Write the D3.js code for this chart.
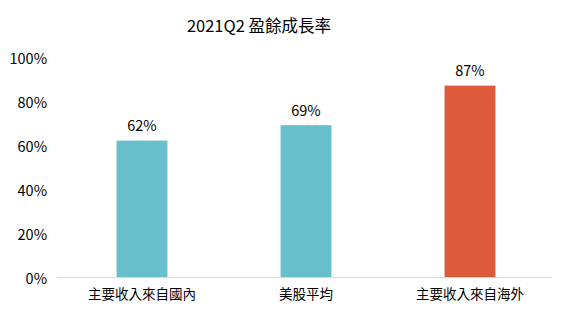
<!DOCTYPE html>
<html>
<head>
<meta charset="utf-8">
<script src="https://cdn.jsdelivr.net/npm/d3@7"></script>
<style>
  body { margin: 0; background: #fff; }
  text { font-family: "Noto Sans CJK TC", "Noto Sans", sans-serif; fill: #000; }
</style>
</head>
<body>
<div id="chart"></div>
<script>
// chart data
const categories = ['主要收入來自國內', '美股平均', '主要收入來自海外'];
const growth = [62, 69, 87];
const barColors = ['#67bfcb', '#67bfcb', '#dd5a3a'];
const yTicks = [0, 20, 40, 60, 80, 100];
const title = '2021Q2 盈餘成長率';

const width = 572, height = 321;
const margin = {top: 57, right: 20, bottom: 44, left: 60};
const cWidth = width - margin.left - margin.right;
const cHeight = height - margin.top - margin.bottom;

const svg = d3.select('#chart').append('svg')
  .attr('width', width).attr('height', height);

svg.append('text')
  .attr('x', 259).attr('y', 25)
  .attr('text-anchor', 'middle').attr('dominant-baseline', 'central')
  .style('font-size', '16.5px')
  .text(title);

const g = svg.append('g').attr('transform', `translate(${margin.left},${margin.top})`);

let x = d3.scaleBand().domain(categories).range([0, cWidth]).paddingInner(0.69).paddingOuter(0.345);
let y = d3.scaleLinear().domain([0, 100]).range([cHeight, 0]);

// y axis labels, no line
g.selectAll('.ytick')
  .data(yTicks)
  .enter().append('text')
  .attr('class', 'ytick')
  .attr('x', -13)
  .attr('y', d => y(d))
  .attr('text-anchor', 'end')
  .attr('dominant-baseline', 'central')
  .style('font-size', '14.5px')
  .text(d => d + '%');

// bars
g.selectAll('.bar')
  .data(growth)
  .enter().append('rect')
  .attr('class', 'bar')
  .attr('x', (d, i) => x(categories[i]))
  .attr('y', d => y(d))
  .attr('width', x.bandwidth())
  .attr('height', d => cHeight - y(d))
  .attr('fill', (d, i) => barColors[i]);

// value labels
g.selectAll('.val')
  .data(growth)
  .enter().append('text')
  .attr('class', 'val')
  .attr('x', (d, i) => x(categories[i]) + x.bandwidth() / 2)
  .attr('y', d => y(d) - 16)
  .attr('text-anchor', 'middle')
  .attr('dominant-baseline', 'central')
  .style('font-size', '14.5px')
  .text(d => d + '%');

// baseline
g.append('line')
  .attr('x1', -3).attr('x2', cWidth)
  .attr('y1', y(0) + 0.5).attr('y2', y(0) + 0.5)
  .attr('stroke', '#d9d9d9');

// category labels
g.selectAll('.cat')
  .data(categories)
  .enter().append('text')
  .attr('class', 'cat')
  .attr('x', d => x(d) + x.bandwidth() / 2)
  .attr('y', cHeight + 16)
  .attr('text-anchor', 'middle')
  .attr('dominant-baseline', 'central')
  .style('font-size', '13.5px')
  .text(d => d);
</script>
</body>
</html>
